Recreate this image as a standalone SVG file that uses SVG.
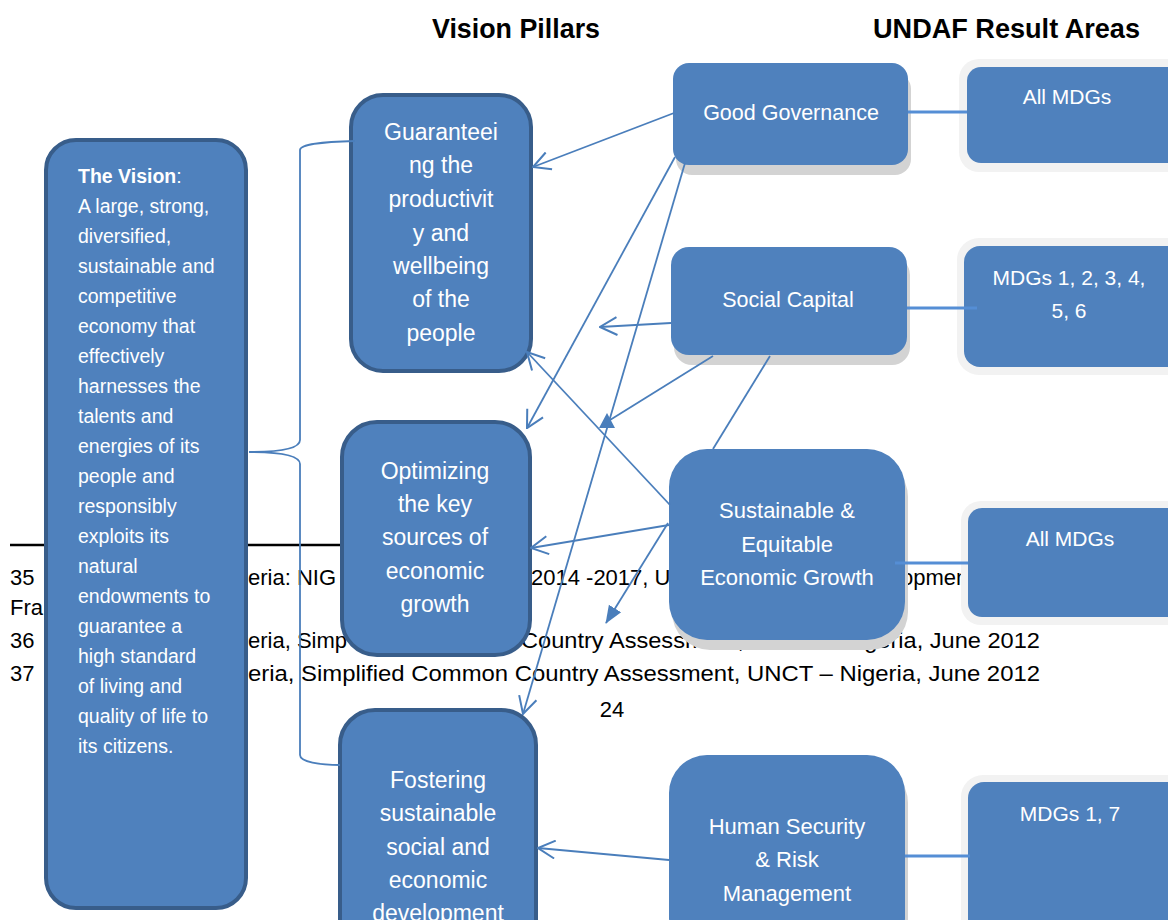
<svg xmlns="http://www.w3.org/2000/svg" width="1168" height="920" viewBox="0 0 1168 920">
<defs>
<style>
.hd{font-family:"Liberation Sans",Arial,sans-serif;font-weight:bold;font-size:27px;fill:#000}
.fn{font-family:"Liberation Sans",Arial,sans-serif;font-size:22px;fill:#000}
.pil{fill:#4F81BD;stroke:#385D8A;stroke-width:4}
.box{fill:#4F81BD}
.shd{fill:#D3D3D3}
.ring{fill:#F2F2F2}
.wt{font-family:"Liberation Sans",Arial,sans-serif;fill:#fff;text-anchor:middle}
.vt{font-family:"Liberation Sans",Arial,sans-serif;fill:#fff;font-size:19.5px}
.c{fill:none;stroke:#4A7EBB;stroke-width:1.8}
.lk{fill:none;stroke:#558ED5;stroke-width:3}
</style>
<marker id="open" viewBox="0 0 20 20" refX="19" refY="10" markerWidth="20" markerHeight="20" markerUnits="userSpaceOnUse" orient="auto">
<path d="M2,1 L19,10 L2,19" fill="none" stroke="#4A7EBB" stroke-width="2"/>
</marker>
<marker id="fill" viewBox="0 0 20 20" refX="19" refY="10" markerWidth="18" markerHeight="18" markerUnits="userSpaceOnUse" orient="auto">
<path d="M0,2 L20,10 L0,18 Z" fill="#4A7EBB"/>
</marker>
</defs>
<rect width="1168" height="920" fill="#fff"/>

<g id="headings">
<text class="hd" x="432" y="38" textLength="168" lengthAdjust="spacingAndGlyphs">Vision Pillars</text>
<text class="hd" x="873" y="38" textLength="267" lengthAdjust="spacingAndGlyphs">UNDAF Result Areas</text>
</g>

<g id="footnotes">
<line x1="10" y1="545" x2="345" y2="545" stroke="#000" stroke-width="2.5"/>
<text class="fn" x="10" y="585">35</text>
<text class="fn" x="248" y="585">eria: NIG</text>
<text class="fn" x="531" y="585">2014 -2017, U</text>
<text class="fn" x="901" y="585">opment</text>
<text class="fn" x="10" y="615">Fra</text>
<text class="fn" x="10" y="648">36</text>
<text class="fn" x="248" y="648">eria, Simp</text>
<text class="fn" x="521" y="648" textLength="519" lengthAdjust="spacingAndGlyphs">Country Assessment, UNCT – Nigeria, June 2012</text>
<text class="fn" x="10" y="681">37</text>
<text class="fn" x="248" y="681" textLength="792" lengthAdjust="spacingAndGlyphs">eria, Simplified Common Country Assessment, UNCT – Nigeria, June 2012</text>
<text class="fn" x="612" y="717" text-anchor="middle">24</text>
</g>

<g id="vision">
<rect class="pil" x="46" y="140" width="200" height="768" rx="30"/>
<text class="vt" x="78" y="183"><tspan font-weight="bold">The Vision</tspan>:</text>
<text class="vt" x="78" y="213">A large, strong,</text>
<text class="vt" x="78" y="243">diversified,</text>
<text class="vt" x="78" y="273">sustainable and</text>
<text class="vt" x="78" y="303">competitive</text>
<text class="vt" x="78" y="333">economy that</text>
<text class="vt" x="78" y="363">effectively</text>
<text class="vt" x="78" y="393">harnesses the</text>
<text class="vt" x="78" y="423">talents and</text>
<text class="vt" x="78" y="453">energies of its</text>
<text class="vt" x="78" y="483">people and</text>
<text class="vt" x="78" y="513">responsibly</text>
<text class="vt" x="78" y="543">exploits its</text>
<text class="vt" x="78" y="573">natural</text>
<text class="vt" x="78" y="603">endowments to</text>
<text class="vt" x="78" y="633">guarantee a</text>
<text class="vt" x="78" y="663">high standard</text>
<text class="vt" x="78" y="693">of living and</text>
<text class="vt" x="78" y="723">quality of life to</text>
<text class="vt" x="78" y="753">its citizens.</text>
</g>

<g id="pillar1">
<rect class="pil" x="351" y="95" width="180" height="276" rx="32"/>
<text class="wt" font-size="23" x="441" y="140">Guaranteei</text>
<text class="wt" font-size="23" x="441" y="173">ng the</text>
<text class="wt" font-size="23" x="441" y="207">productivit</text>
<text class="wt" font-size="23" x="441" y="241">y and</text>
<text class="wt" font-size="23" x="441" y="274">wellbeing</text>
<text class="wt" font-size="23" x="441" y="307">of the</text>
<text class="wt" font-size="23" x="441" y="341">people</text>
</g>

<g id="pillar2">
<rect class="pil" x="342" y="422" width="188" height="233" rx="35"/>
<text class="wt" font-size="23" x="435" y="479">Optimizing</text>
<text class="wt" font-size="23" x="435" y="512">the key</text>
<text class="wt" font-size="23" x="435" y="545">sources of</text>
<text class="wt" font-size="23" x="435" y="579">economic</text>
<text class="wt" font-size="23" x="435" y="612">growth</text>
</g>

<g id="pillar3">
<rect class="pil" x="340" y="710" width="196" height="260" rx="35"/>
<text class="wt" font-size="23" x="438" y="788">Fostering</text>
<text class="wt" font-size="23" x="438" y="821">sustainable</text>
<text class="wt" font-size="23" x="438" y="855">social and</text>
<text class="wt" font-size="23" x="438" y="888">economic</text>
<text class="wt" font-size="23" x="438" y="921">development</text>
</g>

<g id="good-governance">
<rect class="shd" x="676" y="73" width="235" height="102" rx="16"/>
<rect class="box" x="673" y="63" width="235" height="102" rx="16"/>
<text class="wt" font-size="21.5" x="791" y="120">Good Governance</text>
</g>

<g id="social-capital">
<rect class="shd" x="674" y="257" width="236" height="108" rx="18"/>
<rect class="box" x="671" y="247" width="236" height="108" rx="18"/>
<text class="wt" font-size="21.5" x="788" y="307">Social Capital</text>
</g>

<g id="sustainable-growth">
<rect class="shd" x="672" y="459" width="236" height="191" rx="38"/>
<rect class="box" x="669" y="449" width="236" height="191" rx="38"/>
<text class="wt" font-size="22" x="787" y="518">Sustainable &amp;</text>
<text class="wt" font-size="22" x="787" y="552">Equitable</text>
<text class="wt" font-size="22" x="787" y="585">Economic Growth</text>
</g>

<g id="human-security">
<rect class="shd" x="672" y="765" width="236" height="200" rx="38"/>
<rect class="box" x="669" y="755" width="236" height="200" rx="38"/>
<text class="wt" font-size="22" x="787" y="834">Human Security</text>
<text class="wt" font-size="22" x="787" y="867">&amp; Risk</text>
<text class="wt" font-size="22" x="787" y="901">Management</text>
</g>

<g id="mdgs-all-1">
<rect class="ring" x="959" y="59" width="240" height="113" rx="20"/>
<rect class="box" x="967" y="67" width="230" height="96" rx="14"/>
<text class="wt" font-size="21" x="1067" y="104">All MDGs</text>
</g>

<g id="mdgs-1-6">
<rect class="ring" x="957" y="238" width="240" height="137" rx="22"/>
<rect class="box" x="964" y="246" width="230" height="121" rx="16"/>
<text class="wt" font-size="21" x="1069" y="285">MDGs 1, 2, 3, 4,</text>
<text class="wt" font-size="21" x="1069" y="318">5, 6</text>
</g>

<g id="mdgs-all-2">
<rect class="ring" x="961" y="501" width="240" height="124" rx="20"/>
<rect class="box" x="968" y="508" width="230" height="109" rx="14"/>
<text class="wt" font-size="21" x="1070" y="546">All MDGs</text>
</g>

<g id="mdgs-1-7">
<rect class="ring" x="961" y="775" width="240" height="200" rx="22"/>
<rect class="box" x="968" y="782" width="230" height="200" rx="16"/>
<text class="wt" font-size="21" x="1070" y="821">MDGs 1, 7</text>
</g>

<g id="connectors">
<path class="c" d="M355,141 C322,142 300,144 300,150 L300,440 C300,448 282,452 249,452"/>
<path class="c" d="M249,452 C282,452 300,456 300,464 L300,755 C300,762 320,765 340,765"/>
<path class="lk" d="M908,112 L967,112"/>
<path class="lk" d="M907,308 L977,308"/>
<path class="lk" d="M895,563 L968,563"/>
<path class="lk" d="M905,856 L970,856"/>
<path class="c" d="M674,113 L533,167" marker-end="url(#open)"/>
<path class="c" d="M675,157 L527,428" marker-end="url(#open)"/>
<path class="c" d="M685,163 L523,714" marker-end="url(#open)"/>
<path class="c" d="M671,323 L600,327" marker-end="url(#open)"/>
<path class="c" d="M713,356 L610,420"/>
<polygon points="607,413 599,428 615,428" fill="#4A7EBB"/>
<path class="c" d="M770,356 L713,449"/>
<path class="c" d="M670,505 L527,352" marker-end="url(#open)"/>
<path class="c" d="M669,525 L531,548" marker-end="url(#open)"/>
<path class="c" d="M668,523 L606,623" marker-end="url(#fill)"/>
<path class="c" d="M669,860 L538,848" marker-end="url(#open)"/>
</g>
</svg>
